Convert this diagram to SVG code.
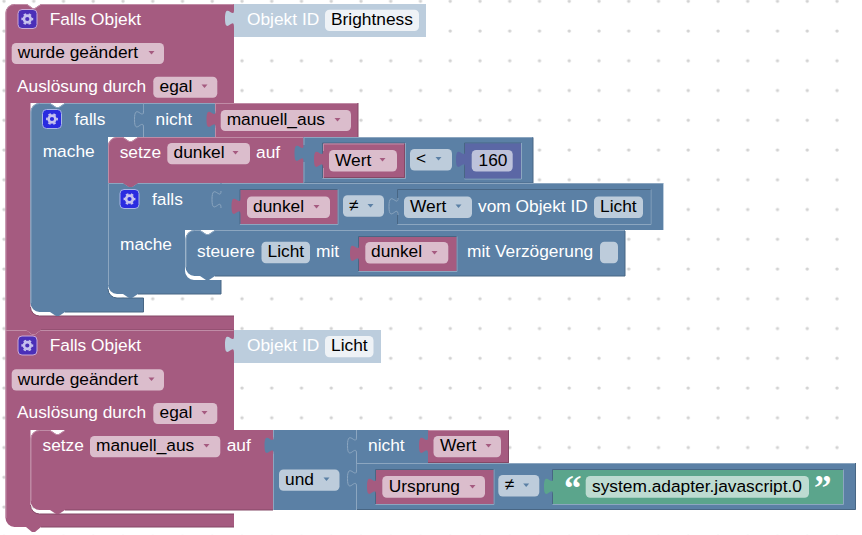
<svg xmlns="http://www.w3.org/2000/svg" width="862" height="535" viewBox="0 0 862 535">
<style>
text{font-family:"Liberation Sans",Arial,sans-serif;font-size:17.33px}
.w{fill:#fff}.k{fill:#000}
.m{fill:#a55b80}.b{fill:#5b80a5}.p{fill:#5b67a5}.g{fill:#5ba58c}.s{fill:#bccddd}
.ml{fill:none;stroke:#c08ca6}.md{fill:none;stroke:#844866}
.bl{fill:none;stroke:#8ca6c0}.bd{fill:none;stroke:#486684}
.fm{fill:#dbbdcc}.fb{fill:#bdccdb}.fp{fill:#bdc2db}.fg{fill:#bddbd1}.fs{fill:#eef2f6}
.am{fill:#a55b80}.ab{fill:#5b80a5}
.q{font-family:"Liberation Serif",serif;font-size:35px;font-weight:bold}
.ip{fill:#4a2fb8;stroke:#c9a9d6}.ib{fill:#2a2be0;stroke:#a9b6e6}
.gr{fill:none;stroke:#c6c2ee;stroke-width:2.600}.gt{fill:none;stroke:#c6c2ee;stroke-width:1.700;stroke-dasharray:2.600 2.640;stroke-dashoffset:1.300}
</style>
<defs>
<pattern id="grid" x="-10" y="-12.700" width="29.750" height="29.750" patternUnits="userSpaceOnUse"><circle cx="14" cy="14" r="1.700" fill="#d2d2d2"/></pattern>
<g id="gear"><circle class="gr" r="3.400"/><circle class="gt" r="5.100"/></g>
<polygon id="arrow" points="0.500,0 6.500,0 3.500,3.500"/>
</defs>
<rect id="background" width="862" height="535" fill="#fff"/>
<rect id="dots" width="862" height="535" fill="url(#grid)"/>

<g id="hat1">
<path class="m" d="M5.500,13a9,9 0 0 1 9,-9H27l5.500,4h2.500L41,4H234V103H30.500V307a9,9 0 0 0 9,9H234V330H41l-6,4.500h-3l-6,-4.500H5.500z"/>
<path class="ml" d="M6,330V13a8.500,8.500 0 0 1 8.500,-8.500H27l5.500,4h2.500L41,4.500H233.500"/>
<path class="md" d="M30.500,307a9,9 0 0 0 9,9H234M234,330H41"/>
<rect class="ip" x="18" y="9.500" width="19" height="19" rx="4"/><use href="#gear" x="27.300" y="19"/>
<text class="w" x="49.700" y="25">Falls Objekt</text>
<rect class="fm" x="11.700" y="43" width="152.300" height="21" rx="4.500"/><text class="k" x="17.700" y="58.300">wurde geändert</text><use href="#arrow" class="am" x="148" y="51"/>
<text class="w" x="17" y="91.700">Auslösung durch</text>
<rect class="fm" x="153.300" y="76.700" width="64" height="21" rx="4.500"/><text class="k" x="159.500" y="91.700">egal</text><use href="#arrow" class="am" x="201" y="84.500"/>
</g>
<g id="objekt-id-brightness">
<path class="s" d="M234,4H426V37H234V27c0,-11.500 -9,9 -9,-8.500s9,1.500 9,-8.500z"/>
<text class="w" x="247" y="25">Objekt ID</text>
<rect class="fs" x="325" y="9.700" width="94" height="21.300" rx="4.500"/><text class="k" x="331" y="25">Brightness</text>
</g>

<g id="falls1">
<path class="b" d="M30.500,112a9,9 0 0 1 9,-9H50l6,4h3l6,-4H143.500V137H108V289a9,9 0 0 0 9,9H143.500V312H65l-6,4h-3l-6,-4H39.500a9,9 0 0 1 -9,-9z"/>
<path class="bl" d="M31,303V112a8.500,8.500 0 0 1 8.500,-8.500H50l6,4h3l6,-4H143"/>
<path class="bd" d="M108,289a9,9 0 0 0 9,9H143.500V312H65"/>
<rect class="ib" x="42.500" y="109.500" width="19" height="19" rx="4"/><use href="#gear" x="52" y="119"/>
<text class="w" x="74.500" y="125">falls</text>
<text class="w" x="42.700" y="157">mache</text>
</g>
<g id="nicht1">
<path class="b" d="M143.500,103H215.500V137H143.500V128c0,-11.500 -9,9 -9,-8.500s9,1.500 9,-8.500z"/>
<path class="bl" d="M143.500,103.500H215M143.500,111c0,10 -9,-9 -9,8.500s9,-3 9,8.500V137"/>
<text class="w" x="155.500" y="125">nicht</text>
</g>
<g id="manuell-aus1">
<path class="m" d="M215.500,103H358V137.500H215.500V128c0,-11.500 -9,9 -9,-8.500s9,1.500 9,-8.500z"/>
<path class="ml" d="M215.500,103.500H357.500M215.500,103V111M215.500,128V137.500"/>
<path class="md" d="M358,103V137.500H216"/>
<rect class="fm" x="220.700" y="110" width="130.300" height="21" rx="4.500"/><text class="k" x="226.700" y="125">manuell_aus</text><use href="#arrow" class="am" x="334" y="118"/>
</g>
<g id="setze-dunkel">
<path class="m" d="M108,146a9,9 0 0 1 9,-9H123l6,4h3l6,-4H304V183H138l-6,4h-3l-6,-4H108z"/>
<path class="ml" d="M108.500,183V146a8.500,8.500 0 0 1 8.500,-8.500H123l6,4h3l6,-4H303.500"/>
<text class="w" x="119.700" y="157.700">setze</text>
<rect class="fm" x="167.300" y="143" width="82.700" height="21.300" rx="4.500"/><text class="k" x="173.500" y="158">dunkel</text><use href="#arrow" class="am" x="232" y="151"/>
<text class="w" x="256" y="157.700">auf</text>
</g>
<g id="vergleich1">
<path class="b" d="M303.500,137H533V183H303.500V162c0,-11.500 -9,9 -9,-8.500s9,1.500 9,-8.500z"/>
<path class="bl" d="M304,137.500H532.500M304,137V145M304,162V183"/>
<path class="bd" d="M533,137.500V183H304"/>
<path class="bd" d="M322.500,178V143H405"/><path class="bl" d="M405.500,143V178.500H322.500"/>
<path class="bd" d="M464.500,178V143H521"/><path class="bl" d="M521.500,143V179H464.500"/>
<rect class="fb" x="410" y="149" width="42" height="21.500" rx="4.500"/><text class="k" x="416" y="164">&lt;</text><use href="#arrow" class="ab" x="435" y="157"/>
</g>
<g id="wert1">
<path class="m" d="M323,143.500H405V178H323V168c0,-11.500 -9,9 -9,-8.500s9,1.500 9,-8.500z"/>
<path class="ml" d="M323.500,178V168M323.500,151V144H404"/><path class="md" d="M404.500,144V177.500H324"/>
<rect class="fm" x="329" y="150" width="68" height="21.500" rx="4.500"/><text class="k" x="335" y="165.700">Wert</text><use href="#arrow" class="am" x="379" y="158"/>
</g>
<g id="zahl160">
<path class="p" d="M465,143.500H521V178.500H465V168c0,-11.500 -9,9 -9,-8.500s9,1.500 9,-8.500z"/>
<rect class="fp" x="471.700" y="150" width="41" height="21.500" rx="4.500"/><text class="k" x="478.500" y="165.700">160</text>
</g>

<g id="falls2">
<path class="b" d="M108,183H123l6,4h3l6,-4H221V230H185V271a9,9 0 0 0 9,9H221V294H138l-6,4h-3l-6,-4H117a9,9 0 0 1 -9,-9z"/>
<path class="m" d="M123,183l6,4h3l6,-4z"/>
<path class="bl" d="M108.500,285V183.500H123M138,183.500H220.500"/>
<path class="bd" d="M221,280V294H138"/>
<rect class="ib" x="120" y="189.500" width="19" height="19" rx="4"/><use href="#gear" x="129.500" y="199"/>
<text class="w" x="152" y="205">falls</text>
<text class="w" x="120" y="250">mache</text>
</g>
<g id="vergleich2">
<path class="b" d="M221,183H663.500V230H221V208c0,-11.500 -9,9 -9,-8.500s9,1.500 9,-8.500z"/>
<path class="bl" d="M221.500,183.500H663M221,191c0,10 -9,-9 -9,8.500s9,-3 9,8.500"/>
<path stroke="#bccddd" fill="none" d="M663.500,183V230"/>
<path class="bd" d="M240,224V189.500H338"/><path class="bl" d="M338,189.500V224.500H240"/>
<path class="bd" d="M397.500,224V189.500H651"/><path class="bl" d="M651,189.500V224.500H397.500"/>
<rect class="fb" x="343" y="195.300" width="41" height="21.400" rx="4.500"/><text class="k" x="349" y="211">≠</text><use href="#arrow" class="ab" x="367" y="204"/>
</g>
<g id="dunkel2">
<path class="m" d="M240.500,190H337.500V224H240.500V215c0,-11.500 -9,9 -9,-8.500s9,1.500 9,-8.500z"/>
<rect class="fm" x="247" y="196.500" width="83" height="21.500" rx="4.500"/><text class="k" x="253" y="211.700">dunkel</text><use href="#arrow" class="am" x="313" y="205"/>
</g>
<g id="wert-vom-objekt">
<path class="b" d="M398,190H650.500V224H398V215c0,-11.500 -9,9 -9,-8.500s9,1.500 9,-8.500z"/>
<path class="bl" d="M398,198c0,10 -9,-9 -9,8.500s9,-3 9,8.500"/>
<rect class="fb" x="404" y="196.500" width="68" height="21.500" rx="4.500"/><text class="k" x="410" y="211.700">Wert</text><use href="#arrow" class="ab" x="455" y="204.500"/>
<text class="w" x="478" y="211.700">vom Objekt ID</text>
<rect class="fb" x="594" y="196.500" width="49" height="21.500" rx="4.500"/><text class="k" x="600" y="211.700">Licht</text>
</g>
<g id="steuere">
<path class="b" d="M185.500,239a9,9 0 0 1 9,-9H200l6,4h3l6,-4H625V276H215l-6,4h-3l-6,-4H194.500a9,9 0 0 1 -9,-9z"/>
<path class="bl" d="M186,267V239a8.500,8.500 0 0 1 8.500,-8.500H200l6,4h3l6,-4H624.500"/>
<path class="bd" d="M625,231V276H215"/>
<path class="bd" d="M358.500,271V236.500H457"/><path class="bl" d="M457,236.500V271.500H358.500"/>
<text class="w" x="197" y="257.300">steuere</text>
<rect class="fb" x="261.500" y="241.700" width="48.500" height="21.500" rx="4.500"/><text class="k" x="267.500" y="257.300">Licht</text>
<text class="w" x="316" y="257.300">mit</text>
<text class="w" x="467" y="257.300">mit Verzögerung</text>
<rect class="fb" x="600" y="241.700" width="18" height="21.500" rx="4.500"/>
</g>
<g id="dunkel3">
<path class="m" d="M359,237H456.500V271H359V262c0,-11.500 -9,9 -9,-8.500s9,1.500 9,-8.500z"/>
<rect class="fm" x="365.300" y="242" width="83" height="21.500" rx="4.500"/><text class="k" x="371" y="257.300">dunkel</text><use href="#arrow" class="am" x="431" y="251"/>
</g>

<g id="hat2">
<path class="m" d="M5.500,330H26l6,4.500h3L41,330H234V430H30.500V505a9,9 0 0 0 9,9H234V527H41l-6,5h-3l-6,-5H14.500a9,9 0 0 1 -9,-9z"/>
<path class="ml" d="M6,518V330.500H26M41,330.500H233.500"/>
<path class="md" d="M30.500,505a9,9 0 0 0 9,9H234M234,527H41"/>
<rect class="ip" x="18" y="336" width="19" height="19" rx="4"/><use href="#gear" x="27.300" y="345.500"/>
<text class="w" x="49.700" y="351">Falls Objekt</text>
<rect class="fm" x="11.700" y="369.300" width="152.300" height="21.300" rx="4.500"/><text class="k" x="17.700" y="385">wurde geändert</text><use href="#arrow" class="am" x="148" y="377.500"/>
<text class="w" x="17" y="418.300">Auslösung durch</text>
<rect class="fm" x="153.300" y="403" width="64" height="21" rx="4.500"/><text class="k" x="159.500" y="418.300">egal</text><use href="#arrow" class="am" x="201" y="411"/>
</g>
<g id="objekt-id-licht">
<path class="s" d="M234,330H381V363H234V353c0,-11.500 -9,9 -9,-8.500s9,1.500 9,-8.500z"/>
<text class="w" x="247" y="351">Objekt ID</text>
<rect class="fs" x="325" y="336" width="48.500" height="21.300" rx="4.500"/><text class="k" x="331" y="351">Licht</text>
</g>
<g id="setze-manuell-aus">
<path class="m" d="M30.500,439a9,9 0 0 1 9,-9H50l6,4h3l6,-4H273.500V510H65l-6,4h-3l-6,-4H39.500a9,9 0 0 1 -9,-9z"/>
<path class="ml" d="M31,501V439a8.500,8.500 0 0 1 8.500,-8.500H50l6,4h3l6,-4"/>
<path class="md" d="M273,510H65"/>
<text class="w" x="42.500" y="451">setze</text>
<rect class="fm" x="90" y="436" width="130.300" height="21.300" rx="4.500"/><text class="k" x="96" y="451">manuell_aus</text><use href="#arrow" class="am" x="203" y="444"/>
<text class="w" x="226.700" y="451">auf</text>
</g>
<g id="und">
<path class="b" d="M273.500,430H356.500V510H273.500V454c0,-11.500 -9,9 -9,-8.500s9,1.500 9,-8.500z"/>
<path class="bl" d="M273.500,430V437M273.500,454V510"/>
<rect class="fb" x="279" y="469.500" width="60.500" height="21.300" rx="4.500"/><text class="k" x="285" y="485">und</text><use href="#arrow" class="ab" x="323" y="477.500"/>
</g>
<g id="nicht2">
<path class="b" d="M356.500,430H428V463H356.500V454c0,-11.500 -9,9 -9,-8.500s9,1.500 9,-8.500z"/>
<path class="bl" d="M356.500,430V437c0,10 -9,-9 -9,8.500s9,-3 9,8.500V463"/>
<text class="w" x="368" y="451">nicht</text>
</g>
<g id="wert2">
<path class="m" d="M428,430H509V463H428V454c0,-11.500 -9,9 -9,-8.500s9,1.500 9,-8.500z"/>
<path class="ml" d="M428.500,430.500H508.500"/><path class="md" d="M508.500,430.500V462.500H428"/>
<rect class="fm" x="433.500" y="436" width="67.500" height="21.300" rx="4.500"/><text class="k" x="440" y="450.700">Wert</text><use href="#arrow" class="am" x="485" y="444"/>
</g>
<g id="vergleich3">
<path class="b" d="M356.500,463H855.500V510H356.500V487c0,-11.500 -9,9 -9,-8.500s9,1.500 9,-8.500z"/>
<path class="bl" d="M356.500,463.500H855M356.500,470c0,10 -9,-9 -9,8.500s9,-3 9,8.500V510"/>
<path class="bd" d="M855.500,463V509.500H357"/>
<path class="bd" d="M375.500,504V469.500H494"/><path class="bl" d="M494,469.500V504.500H375.500"/>
<path class="bd" d="M552.500,504V469.500H843.500"/><path class="bl" d="M843.500,469.500V504.500H552.500"/>
<rect class="fb" x="498.300" y="475" width="41" height="21.500" rx="4.500"/><text class="k" x="504.700" y="490">≠</text><use href="#arrow" class="ab" x="522.700" y="483.500"/>
</g>
<g id="ursprung">
<path class="m" d="M376,470H493.500V504H376V495c0,-11.500 -9,9 -9,-8.500s9,1.500 9,-8.500z"/>
<rect class="fm" x="382.300" y="476" width="102.700" height="21.700" rx="4.500"/><text class="k" x="388.700" y="491.700">Ursprung</text><use href="#arrow" class="am" x="469" y="485"/>
</g>
<g id="text-block">
<path class="g" d="M553,470H843V504H553V495c0,-11.500 -9,9 -9,-8.500s9,1.500 9,-8.500z"/>
<text class="w q" x="564" y="499.500">“</text>
<rect class="fg" x="585.700" y="476" width="223.300" height="21.700" rx="4.500"/><text class="k" x="592" y="491.700">system.adapter.javascript.0</text>
<text class="w q" x="814" y="499.500">”</text>
</g>
</svg>
